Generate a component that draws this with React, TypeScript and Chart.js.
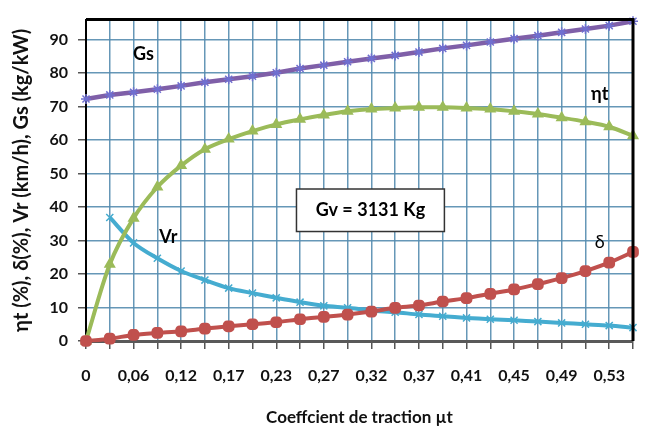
import React, { useEffect, useRef } from "react";
import { Chart, registerables } from "chart.js";

Chart.register(...registerables);

const categories = ["0", "0,03", "0,06", "0,09", "0,12", "0,15", "0,17", "0,2", "0,23", "0,25", "0,27", "0,3", "0,32", "0,35", "0,37", "0,39", "0,41", "0,43", "0,45", "0,47", "0,49", "0,51", "0,53", "0,55"];

const gs = [72.3, 73.5, 74.3, 75.2, 76.2, 77.3, 78.2, 79.1, 80.1, 81.4, 82.4, 83.4, 84.4, 85.3, 86.3, 87.4, 88.3, 89.3, 90.3, 91.2, 92.2, 93.2, 94.2, 95.5];
const etaT = [0, 22.9, 36.7, 46, 52.4, 57.3, 60.3, 62.7, 64.7, 66.2, 67.5, 68.6, 69.3, 69.6, 69.8, 69.8, 69.6, 69.3, 68.6, 67.8, 66.7, 65.5, 64, 61.3];
const vr = [null, 36.9, 29.3, 24.7, 20.9, 18.2, 15.8, 14.3, 12.9, 11.6, 10.5, 9.9, 9.1, 8.6, 7.9, 7.4, 6.9, 6.5, 6.2, 5.8, 5.4, 5.0, 4.6, 4.0];
const delta = [0, 0.7, 1.8, 2.4, 2.9, 3.7, 4.4, 5.0, 5.6, 6.5, 7.2, 7.9, 8.8, 9.9, 10.6, 11.8, 12.8, 14.1, 15.4, 17.0, 18.8, 20.9, 23.4, 26.6];

const yMax = 96;
const yStep = 10;

// annotation labels: [text, category index (fractional), value, bold]
const seriesLabels: [string, number, number, boolean][] = [
  ["Gs", 2.42, 85.8, true],
  ["ηt", 21.6, 73.7, true],
  ["Vr", 3.46, 31, true],
  ["δ", 21.6, 29.5, false],
];
const boxText = "Gv = 3131 Kg";
const boxPos = { x0: 8.85, x1: 15.07, y0: 45.4, y1: 32.7 };

const FONT = "Lato, 'Open Sans', sans-serif";

const overlayPlugin = {
  id: "overlay",
  afterDraw(chart: any) {
    const { ctx, chartArea, scales } = chart;
    const ys = scales.y;
    const n = categories.length - 1;
    const px = (i: number) => chartArea.left + (i / n) * (chartArea.right - chartArea.left);
    ctx.save();
    ctx.strokeStyle = "#000";
    ctx.lineWidth = 3;
    ctx.beginPath();
    ctx.moveTo(chartArea.left, chartArea.top);
    ctx.lineTo(chartArea.right, chartArea.top);
    ctx.lineTo(chartArea.right, chartArea.bottom);
    ctx.stroke();

    ctx.fillStyle = "#000";
    ctx.textAlign = "center";
    ctx.textBaseline = "middle";
    for (const [t, i, v, bold] of seriesLabels) {
      ctx.font = `${bold ? "bold " : ""}18px ${FONT}`;
      ctx.fillText(t, px(i), ys.getPixelForValue(v));
    }
    const bx0 = px(boxPos.x0), bx1 = px(boxPos.x1);
    const by0 = ys.getPixelForValue(boxPos.y0), by1 = ys.getPixelForValue(boxPos.y1);
    ctx.fillStyle = "#fff";
    ctx.fillRect(bx0, by0, bx1 - bx0, by1 - by0);
    ctx.strokeStyle = "#333";
    ctx.lineWidth = 1.5;
    ctx.strokeRect(bx0, by0, bx1 - bx0, by1 - by0);
    ctx.fillStyle = "#000";
    ctx.font = `bold 18px ${FONT}`;
    ctx.fillText(boxText, (bx0 + bx1) / 2, (by0 + by1) / 2);
    ctx.restore();
  },
};

export default function App() {
  const ref = useRef<HTMLCanvasElement>(null);
  useEffect(() => {
    if (!ref.current) return;
    const gridColor = "rgba(85,140,175,0.9)";
    const chart = new Chart(ref.current, {
      type: "line",
      data: {
        labels: categories,
        datasets: [
          {
            label: "δ",
            data: delta,
            borderColor: "#c0504d",
            backgroundColor: "#c0504d",
            borderWidth: 4,
            pointStyle: "rectRounded",
            pointRadius: 4.5,
            tension: 0.25,
            clip: false,
          },
          {
            label: "ηt",
            data: etaT,
            borderColor: "#9bbb59",
            backgroundColor: "#9bbb59",
            borderWidth: 4,
            pointStyle: "triangle",
            pointRadius: 3,
            tension: 0.3,
            clip: false,
          },
          {
            label: "Vr",
            data: vr,
            borderColor: "#45acd0",
            backgroundColor: "#45acd0",
            pointBorderColor: "#45acd0",
            borderWidth: 4,
            pointStyle: "crossRot",
            pointRadius: 5,
            pointBorderWidth: 1.5,
            tension: 0.3,
            clip: false,
          },
          {
            label: "Gs",
            data: gs,
            borderColor: "#7f5fa8",
            backgroundColor: "#7f5fa8",
            pointBorderColor: "#6f6fd0",
            borderWidth: 4.5,
            pointStyle: "star",
            pointRadius: 5,
            pointBorderWidth: 1.5,
            tension: 0,
            clip: false,
          },
        ],
      },
      options: {
        animation: false,
        responsive: false,
        layout: { padding: { left: 0, right: 13, top: 16, bottom: 0 } },
        plugins: { legend: { display: false }, tooltip: { enabled: false } },
        scales: {
          x: {
            type: "category",
            offset: false,
            afterFit: (s: any) => { s.height = 89; },
            grid: { color: gridColor, lineWidth: 1.5, tickLength: 8, tickColor: "#555", drawTicks: true },
            border: { color: "#595959", width: 3 },
            ticks: {
              autoSkip: false,
              maxRotation: 0,
              padding: 17,
              color: "#111",
              font: { family: FONT, size: 16, weight: "bold" },
              callback: (_v: any, i: number) => (i % 2 === 0 ? categories[i] : ""),
            },
            title: {
              display: true,
              text: "Coeffcient de traction µt",
              color: "#111",
              font: { family: FONT, size: 17, weight: "bold" },
              padding: { top: 0, bottom: 2 },
            },
          },
          y: {
            min: 0,
            max: yMax,
            afterFit: (s: any) => { s.width = 86; },
            afterBuildTicks: (s: any) => { s.ticks = s.ticks.filter((t: any) => t.value % yStep === 0); },
            grid: { color: gridColor, lineWidth: 1.5, tickLength: 8, tickColor: "#555" },
            border: { color: "#000", width: 2 },
            ticks: {
              stepSize: yStep,
              padding: 10,
              color: "#111",
              font: { family: FONT, size: 16, weight: "bold" },
            },
            title: {
              display: true,
              text: "ηt (%), δ(%), Vr (km/h), Gs (kg/kW)",
              color: "#111",
              font: { family: FONT, size: 20, weight: "bold" },
              padding: { top: 10, bottom: 0 },
            },
          },
        },
      },
      plugins: [overlayPlugin],
    } as any);
    return () => chart.destroy();
  }, []);
  return (
    <div style={{ position: "absolute", left: 0, top: 0, width: 650, height: 430, background: "#fff" }}>
      <canvas ref={ref} width={650} height={430} />
    </div>
  );
}
